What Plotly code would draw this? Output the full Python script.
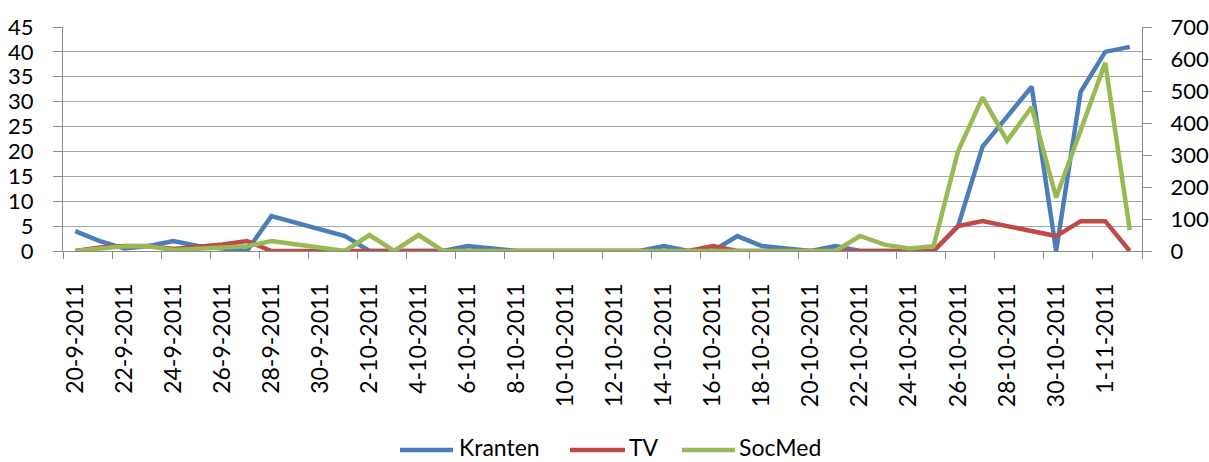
import plotly.graph_objects as go

dates = (
    [f"{d}-9-2011" for d in range(20, 31)]
    + [f"{d}-10-2011" for d in range(1, 32)]
    + ["1-11-2011", "2-11-2011"]
)

kranten = [4, 2, 0.5, 1, 2, 1, 0.5, 0, 7, 5.7, 4.3, 3, 0, 0, 0, 0, 1, 0.5, 0, 0,
           0, 0, 0, 0, 1, 0, 0, 3, 1, 0.5, 0, 1, 0, 0, 0, 0, 5, 21, 27, 33,
           0, 32, 40, 41]
tv = [0, 0.7, 1, 1, 0.4, 0.8, 1.3, 2, 0, 0, 0, 0, 0, 0, 0, 0, 0, 0, 0, 0,
      0, 0, 0, 0, 0, 0, 1, 0, 0, 0, 0, 0, 0, 0, 0, 0, 5, 6, 5, 4,
      3, 6, 6, 0]
socmed = [0, 9, 15, 15, 3, 7, 10, 15, 31, 20, 10, 0, 50, 0, 50, 0, 0, 0, 0, 0,
          0, 0, 0, 0, 0, 0, 0, 0, 0, 0, 0, 0, 47, 20, 8, 15, 312, 480, 344, 450,
          167, 375, 588, 65]

series_names = ["Kranten", "TV", "SocMed"]
series_colors = ["#4A7EBB", "#BE4B48", "#98B954"]

left_ticks = list(range(0, 50, 5))
right_ticks = list(range(0, 800, 100))
label_dates = dates[::2]

FONT = "Lato"
W, H = 1209, 462
ML, MR, MT, MB = 63, 67, 27, 211
PW, PH = W - ML - MR, H - MT - MB


def px_to_paper_x(px):
    return (px - ML) / PW


def px_to_paper_y(py):
    return (H - MB - py) / PH


fig = go.Figure()
for name, vals, color, axis in zip(series_names, [kranten, tv, socmed],
                                   series_colors, ["y", "y", "y2"]):
    fig.add_trace(go.Scatter(x=dates, y=vals, name=name, mode="lines", yaxis=axis,
                             line=dict(color=color, width=4.5), showlegend=False))

# legend drawn as long line samples + text (Excel style)
legend_pos = [(400, 453, 458), (570, 625, 628), (682, 735, 738)]
leg_y = 450
for (x0, x1, tx), name, color in zip(legend_pos, series_names, series_colors):
    fig.add_shape(type="line", xref="paper", yref="paper",
                  x0=px_to_paper_x(x0), x1=px_to_paper_x(x1),
                  y0=px_to_paper_y(leg_y), y1=px_to_paper_y(leg_y),
                  line=dict(color=color, width=4.5))
    fig.add_annotation(text=name, xref="paper", yref="paper",
                       x=px_to_paper_x(tx), y=px_to_paper_y(leg_y - 3),
                       xanchor="left", yanchor="middle", showarrow=False,
                       borderpad=0,
                       font=dict(family=FONT, size=23, color="#000000"))

fig.update_layout(
    width=W, height=H,
    margin=dict(l=ML, r=MR, t=MT, b=MB, autoexpand=False),
    paper_bgcolor="white", plot_bgcolor="white",
    font=dict(family=FONT, size=22, color="#000000"),
    showlegend=False,
    xaxis=dict(
        type="category", categoryorder="array", categoryarray=dates,
        range=[-0.5, len(dates) - 0.5], automargin=False,
        tickmode="array", tickvals=label_dates, ticktext=label_dates,
        tickangle=-90, ticks="", ticklabelstandoff=22,
        tickfont=dict(size=23),
        showline=True, linecolor="#8C8C8C", linewidth=1.3,
        showgrid=False, zeroline=False,
        minor=dict(tickmode="array",
                   tickvals=[i - 0.5 for i in range(0, len(dates) + 1, 2)],
                   ticks="outside", ticklen=7, tickcolor="#8C8C8C", tickwidth=1.3,
                   showgrid=False),
    ),
    yaxis=dict(
        range=[0, 45], tickmode="array", tickvals=left_ticks, automargin=False,
        ticks="outside", ticklen=9, tickcolor="#8C8C8C", tickwidth=1.3,
        showline=True, linecolor="#8C8C8C", linewidth=1.3,
        showgrid=True, gridcolor="#A6A6A6", gridwidth=1.3, zeroline=False,
        ticklabelstandoff=15,
    ),
    yaxis2=dict(
        range=[0, 700], tickmode="array", tickvals=right_ticks, automargin=False,
        overlaying="y", side="right",
        ticks="outside", ticklen=9, tickcolor="#8C8C8C", tickwidth=1.3,
        showline=True, linecolor="#8C8C8C", linewidth=1.3,
        showgrid=False, zeroline=False, ticklabelstandoff=14,
    ),
)

fig.write_html(
    "out.html",
    config={"displayModeBar": False},
    post_script="document.body.style.margin='0';document.body.style.overflow='hidden';",
)
